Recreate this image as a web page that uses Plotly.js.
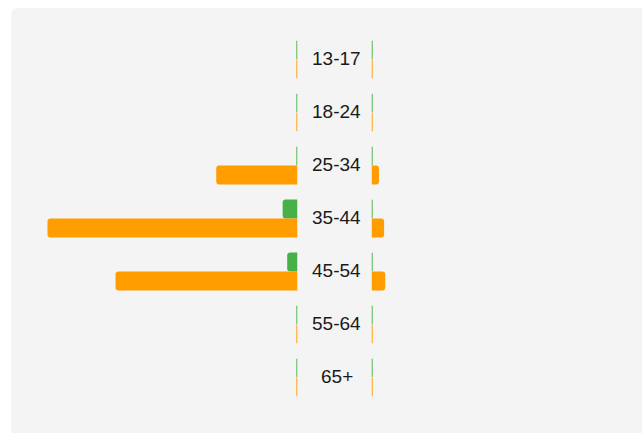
<!DOCTYPE html>
<html>
<head>
<meta charset="utf-8">
<script src="https://cdn.plot.ly/plotly-3.0.1.min.js"></script>
<style>
  html, body { margin: 0; padding: 0; background: #ffffff; width: 642px; height: 433px; overflow: hidden; }
  #panel { position: absolute; left: 11px; top: 8px; width: 640px; height: 440px; background: #f4f4f4; border-radius: 7px 0 0 0; }
  #chart { position: absolute; left: 0; top: 0; width: 642px; height: 433px; }
</style>
</head>
<body>
<div id="panel"></div>
<div id="chart"></div>
<script>
// Age groups (shown in the middle column)
const ageGroups = ["13-17", "18-24", "25-34", "35-44", "45-54", "55-64", "65+"];

// Left side (percent of audience)
const leftGreen  = [0, 0, 0, 2.6, 1.8, 0, 0];
const leftOrange = [0, 0, 14.2, 43.7, 31.8, 0, 0];

// Right side (percent of audience)
const rightGreen  = [0, 0, 0, 0, 0, 0, 0];
const rightOrange = [0, 0, 1.3, 2.2, 2.4, 0, 0];

const GREEN = "#46b147";
const ORANGE = "#ff9c00";
// zero values are still drawn as a hairline stub
const MIN_VISIBLE = 0.2;

function barTrace(values, color, xa) {
  return {
    type: "bar",
    orientation: "h",
    y: ageGroups,
    x: values.map(v => Math.max(v, MIN_VISIBLE)),
    xaxis: xa,
    yaxis: "y",
    marker: { color: color, cornerradius: 3, line: { width: 0 } },
    hoverinfo: "skip",
    showlegend: false
  };
}

const data = [
  barTrace(leftGreen, GREEN, "x"),
  barTrace(leftOrange, ORANGE, "x"),
  barTrace(rightGreen, GREEN, "x2"),
  barTrace(rightOrange, ORANGE, "x2")
];

const annotations = ageGroups.map(g => ({
  text: g,
  x: 0.5245,
  xref: "paper",
  y: g,
  yref: "y",
  xanchor: "center",
  yanchor: "middle",
  yshift: 1,
  showarrow: false,
  font: { family: "Liberation Sans, Arial, sans-serif", size: 19, color: "#1a1a1a" }
}));

const layout = {
  width: 642,
  height: 433,
  margin: { l: 0, r: 0, t: 33, b: 29, pad: 0 },
  paper_bgcolor: "rgba(0,0,0,0)",
  plot_bgcolor: "rgba(0,0,0,0)",
  barmode: "group",
  bargap: 0.283,
  bargroupgap: 0,
  xaxis: {
    domain: [0, 0.4634],
    range: [52, 0],
    showgrid: false, zeroline: false, showticklabels: false, showline: false, ticks: ""
  },
  xaxis2: {
    domain: [0.5787, 1],
    range: [0, 47.3],
    anchor: "y",
    showgrid: false, zeroline: false, showticklabels: false, showline: false, ticks: ""
  },
  yaxis: {
    type: "category",
    autorange: "reversed",
    showgrid: false, zeroline: false, showticklabels: false, showline: false, ticks: ""
  },
  annotations: annotations
};

Plotly.newPlot("chart", data, layout, { displayModeBar: false, staticPlot: true });
</script>
</body>
</html>
